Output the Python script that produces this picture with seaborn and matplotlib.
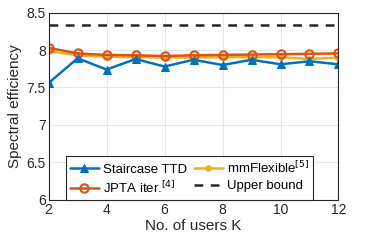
import matplotlib
matplotlib.use("Agg")
import matplotlib.pyplot as plt
import seaborn as sns
import pandas as pd

users = [2, 3, 4, 5, 6, 7, 8, 9, 10, 11, 12]
staircase = [7.56, 7.89, 7.74, 7.88, 7.78, 7.87, 7.80, 7.87, 7.81, 7.85, 7.81]
jpta = [8.03, 7.955, 7.935, 7.93, 7.92, 7.93, 7.935, 7.94, 7.945, 7.95, 7.955]
mmflex = [7.985, 7.93, 7.91, 7.905, 7.90, 7.90, 7.905, 7.905, 7.905, 7.88, 7.90]
upper = [8.335] * len(users)

sns.set_theme(style="whitegrid")
plt.rcParams['font.family'] = ['Liberation Sans', 'DejaVu Sans']

fig, ax = plt.subplots(figsize=(3.74, 2.43), dpi=100)
fig.subplots_adjust(left=0.13, right=0.905, top=0.948, bottom=0.178)

df = pd.DataFrame({"K": users, "st": staircase, "jp": jpta, "mm": mmflex, "ub": upper})

blue = "#0072BD"; orange = "#D95319"; yellow = "#EDB120"
sns.lineplot(data=df, x="K", y="ub", ax=ax, color="#262626", lw=1.8, dashes=False, label="Upper bound")
ax.lines[-1].set_linestyle((0, (3.5, 3)))
sns.lineplot(data=df, x="K", y="mm", ax=ax, color=yellow, lw=1.8, marker="o", markersize=4,
             markeredgecolor=yellow, label="mmFlexible$^{[5]}$")
sns.lineplot(data=df, x="K", y="jp", ax=ax, color=orange, lw=1.8, marker="o", markersize=6,
             markerfacecolor="none", markeredgecolor=orange, markeredgewidth=1.5, label="JPTA iter.$^{[4]}$")
sns.lineplot(data=df, x="K", y="st", ax=ax, color=blue, lw=1.8, marker="^", markersize=6,
             markeredgecolor=blue, label="Staircase TTD")

ax.set_xlim(2, 12)
ax.set_ylim(6, 8.5)
ax.set_xticks([2, 4, 6, 8, 10, 12])
ax.set_yticks([6, 6.5, 7, 7.5, 8, 8.5])
ax.set_yticklabels(["6", "6.5", "7", "7.5", "8", "8.5"])
ax.set_xlabel("No. of users K", fontsize=11, color="#262626", labelpad=2)
ax.set_ylabel("Spectral efficiency", fontsize=11, color="#262626", labelpad=3)
ax.tick_params(labelsize=10, colors="#262626", pad=2, length=0)
ax.grid(True, color="#e6e6e6", lw=0.8)
for s in ax.spines.values():
    s.set_color("#262626"); s.set_linewidth(0.8)

h, l = ax.get_legend_handles_labels()
order = [3, 2, 1, 0]
leg = ax.legend([h[i] for i in order], [l[i] for i in order], ncol=2, loc="lower left",
                bbox_to_anchor=(0.06, 0.0), fontsize=9.5, frameon=True, fancybox=False,
                edgecolor="#262626", framealpha=1, borderpad=0.3, labelspacing=0.3,
                handlelength=2.2, handletextpad=0.3, columnspacing=0.5, borderaxespad=0)
leg.get_frame().set_linewidth(0.8)
for t in leg.get_texts():
    t.set_color("#000000")

fig.savefig("out.png", dpi=100)
